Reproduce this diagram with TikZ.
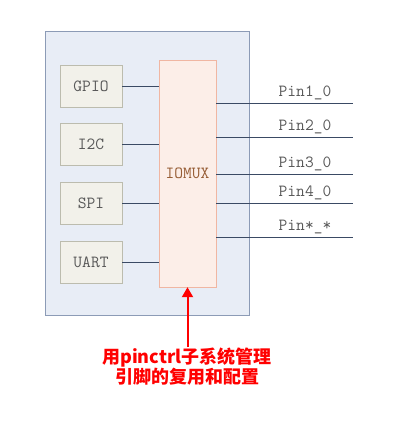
\documentclass[tikz,border=0pt]{standalone}
\usepackage{fontspec}
\newfontfamily\cjk{Noto Sans CJK SC}
\usetikzlibrary{arrows.meta}

\definecolor{socfill}{RGB}{232,237,246}
\definecolor{socdraw}{RGB}{140,155,182}
\definecolor{blkfill}{RGB}{242,241,234}
\definecolor{blkdraw}{RGB}{188,188,174}
\definecolor{muxfill}{RGB}{252,238,232}
\definecolor{muxdraw}{RGB}{240,182,162}
\definecolor{muxtext}{RGB}{150,92,52}
\definecolor{wire}{RGB}{58,74,100}
\definecolor{txt}{RGB}{88,88,88}

\tikzset{
  blk/.style={draw=blkdraw,fill=blkfill,minimum width=62pt,minimum height=42pt,
    inner sep=0pt,font=\ttfamily\fontsize{17}{19}\selectfont,text=txt},
  pinlabel/.style={anchor=south,inner sep=1pt,font=\ttfamily\fontsize{17}{19}\selectfont,text=txt},
  wireline/.style={draw=wire,line width=0.8pt}
}

\begin{document}
\begin{tikzpicture}[x=1pt,y=-1pt]
        \useasboundingbox (0,0) rectangle (400,426);

        \node[draw=socdraw,fill=socfill,minimum width=204pt,minimum height=284pt] (soc) at (147,173) {};

        \begin{scope}[every node/.style={blk}]
          \node (gpio) at (91,86)    {GPIO};
          \node (i2c)  at (91,144.5) {I2C};
          \node (spi)  at (91,203.5) {SPI};
          \node (uart) at (91,262)   {UART};
        \end{scope}

        \node[draw=muxdraw,fill=muxfill,minimum width=57pt,minimum height=227pt,
          font=\ttfamily\fontsize{17}{19}\selectfont,text=muxtext] (mux) at (187.5,173.5) {IOMUX};

        \coordinate (e1) at (353,103);
        \coordinate (e2) at (353,137);
        \coordinate (e3) at (353,174);
        \coordinate (e4) at (353,203);
        \coordinate (e5) at (353,237);

        \begin{scope}[every path/.style={wireline}]
          \path (gpio) edge (gpio -| mux.west);
          \path (i2c)  edge (i2c -| mux.west);
          \path (spi)  edge (spi -| mux.west);
          \path (uart) edge (uart -| mux.west);
          \path (mux.east |- e1) edge (e1);
          \path (mux.east |- e2) edge (e2);
          \path (mux.east |- e3) edge (e3);
          \path (mux.east |- e4) edge (e4);
          \path (mux.east |- e5) edge (e5);
        \end{scope}

        \begin{scope}[every node/.style={pinlabel}]
          \node (l1) at (305,101) {Pin1\_0};
          \node (l2) at (305,135) {Pin2\_0};
          \node (l3) at (305,172) {Pin3\_0};
          \node (l4) at (305,201) {Pin4\_0};
          \node (l5) at (305,235) {Pin*\_*};
        \end{scope}

        \node[align=center,text=red,inner sep=1pt,font=\cjk\bfseries\fontsize{18}{20}\selectfont] (note) at (187,367)
          {用pinctrl子系统管理\\引脚的复用和配置};

        \draw[red,line width=2pt,-{Triangle[length=10pt,width=11pt]}] (note.north -| mux.south) -- (mux.south);

      \end{tikzpicture}
\end{document}
